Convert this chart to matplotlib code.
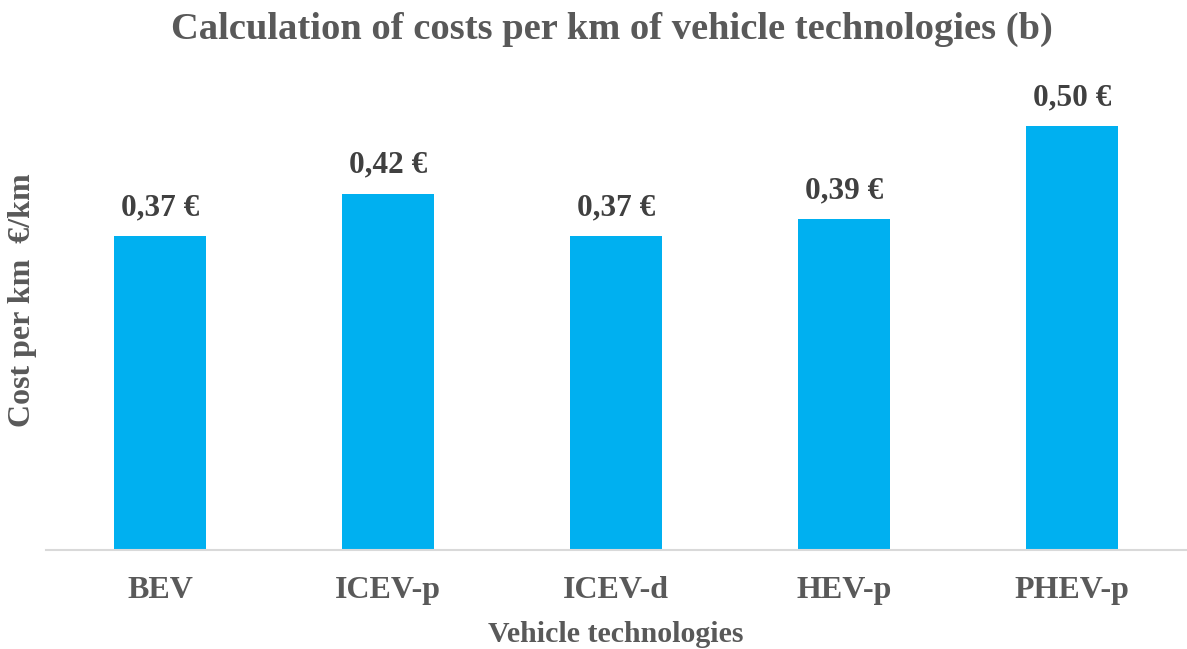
import matplotlib.pyplot as plt

# Cost per km for each vehicle technology
technologies = ['BEV', 'ICEV-p', 'ICEV-d', 'HEV-p', 'PHEV-p']
cost_per_km = [0.37, 0.42, 0.37, 0.39, 0.50]

plt.rcParams['font.family'] = ['Liberation Serif', 'DejaVu Serif']
plt.rcParams['font.weight'] = 'bold'

fig = plt.figure(figsize=(11.87, 6.49), dpi=100)
ax = fig.add_axes([46 / 1187, 99 / 649, 1140 / 1187, 509 / 649])

x = range(len(technologies))
bars = ax.bar(x, cost_per_km, width=0.4, color='#00B0F0')

# value labels above each bar
for xi, v in zip(x, cost_per_km):
    ax.annotate(f'{v:.2f} €'.replace('.', ','), (xi, v), xytext=(0, 10),
                textcoords='offset points', ha='center', va='bottom',
                fontsize=22.5, fontweight='bold', color='#404040')

ax.set_xlim(-0.5, len(technologies) - 0.5)
ax.set_ylim(0, 0.6)
ax.set_xticks(list(x))
ax.set_xticklabels(technologies, fontsize=23, fontweight='bold', color='#595959')
ax.tick_params(axis='x', length=0, pad=19)
ax.set_yticks([])

for side in ['top', 'right', 'left']:
    ax.spines[side].set_visible(False)
ax.spines['bottom'].set_color('#D9D9D9')
ax.spines['bottom'].set_linewidth(1.5)

ax.set_xlabel('Vehicle technologies', fontsize=21.5, fontweight='bold',
              color='#595959', labelpad=11)
fig.text(23 / 1187, 1 - 300 / 649, 'Cost per km  €/km', rotation=90, ha='center',
         va='center', fontsize=23, fontweight='bold', color='#595959')
fig.text(612 / 1187, 1 - 29 / 649, 'Calculation of costs per km of vehicle technologies (b)',
         ha='center', va='center', fontsize=27.7, fontweight='bold', color='#595959')

fig.savefig('out.png', dpi=100)
